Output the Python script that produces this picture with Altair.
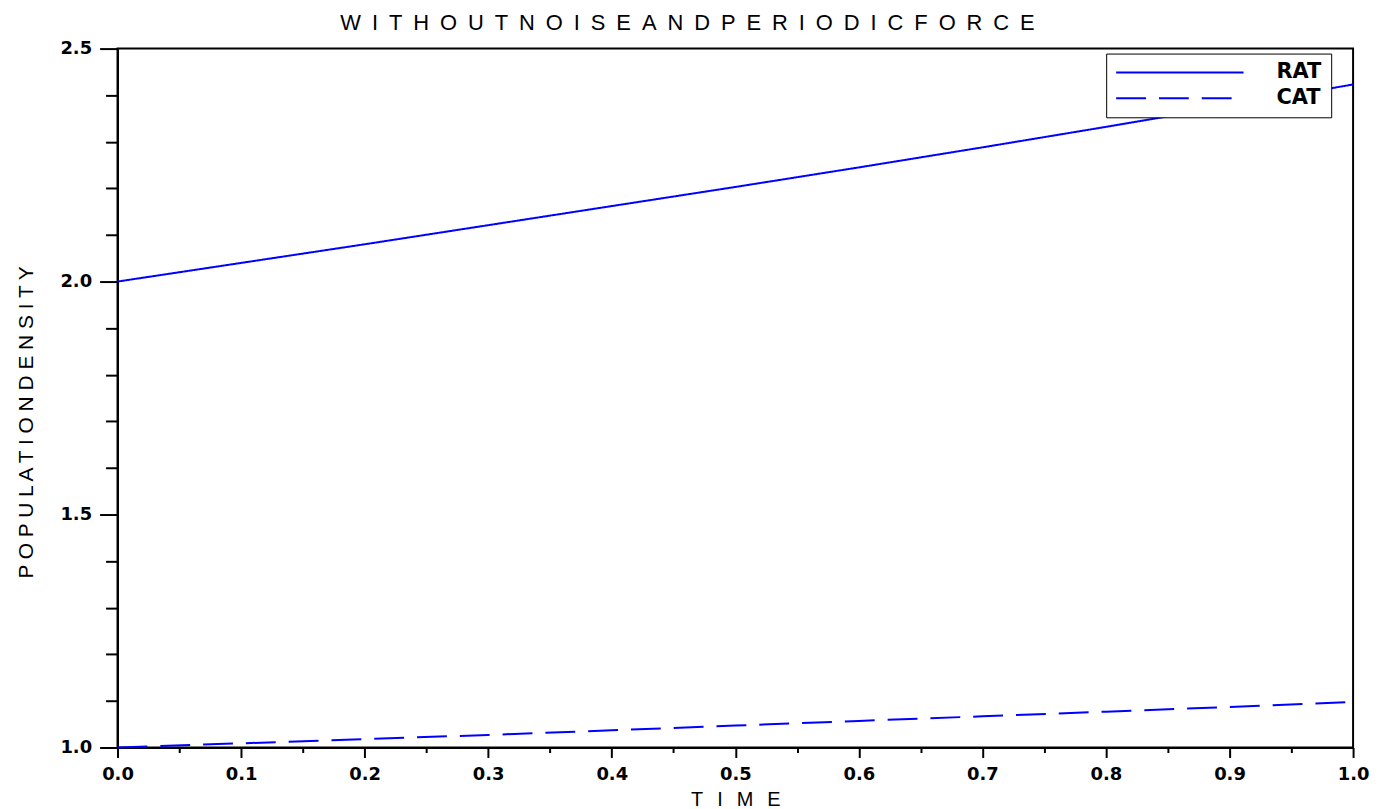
import altair as alt
import pandas as pd

# ---- data ----
time = [0.0, 0.1, 0.2, 0.3, 0.4, 0.5, 0.6, 0.7, 0.8, 0.9, 1.0]
rat = [2.000, 2.040, 2.080, 2.121, 2.162, 2.203, 2.245, 2.288, 2.332, 2.377, 2.423]
cat = [1.000, 1.009, 1.018, 1.027, 1.037, 1.047, 1.057, 1.067, 1.077, 1.087, 1.098]
series_names = ["RAT", "CAT"]

y_tick_values = [1.0, 1.1, 1.2, 1.3, 1.4, 1.5, 1.6, 1.7, 1.8, 1.9, 2.0,
                 2.1, 2.2, 2.3, 2.4, 2.5]
x_tick_values = [0.0, 0.05, 0.1, 0.15, 0.2, 0.25, 0.3, 0.35, 0.4, 0.45, 0.5,
                 0.55, 0.6, 0.65, 0.7, 0.75, 0.8, 0.85, 0.9, 0.95, 1.0]

title_text = "\u2002".join("WITHOUTNOISEANDPERIODICFORCE")
y_title = " ".join("POPULATIONDENSITY")
x_title = "\u2002\u2009".join("TIME")

df = pd.DataFrame({
    "time": time + time,
    "value": rat + cat,
    "series": [series_names[0]] * len(time) + [series_names[1]] * len(time),
})

legend = alt.Legend(
    title=None, orient="none", legendX=993, legendY=5,
    strokeColor="black", fillColor="white", padding=9,
    symbolType="stroke", symbolSize=16384, symbolStrokeWidth=2,
    clipHeight=20, rowPadding=5, labelOffset=32,
    labelFont="DejaVu Sans", labelFontWeight="bold", labelFontSize=21,
    labelColor="black",
)

major_x = "round(datum.value*20) % 2 == 0"
major_y = "round(datum.value*10) % 5 == 0"

chart = alt.Chart(df).mark_line(strokeWidth=2).encode(
    x=alt.X("time:Q", scale=alt.Scale(domain=[0, 1], nice=False, zero=False),
            axis=alt.Axis(
                values=x_tick_values, title=x_title, grid=False,
                labelExpr=f"{major_x} ? format(datum.value, '.1f') : ''",
                tickSize={"condition": {"test": major_x, "value": 10}, "value": 5},
                labelFlush=False, labelPadding=8,
                titleY=58, titleBaseline="alphabetic", titleFontSize=20,
            )),
    y=alt.Y("value:Q", scale=alt.Scale(domain=[1.0, 2.5], nice=False, zero=False),
            axis=alt.Axis(
                values=y_tick_values, title=y_title, grid=False,
                labelExpr=f"{major_y} ? format(datum.value, '.1f') : ''",
                tickSize={"condition": {"test": major_y, "value": 18}, "value": 12},
                labelPadding=8,
                titleX=-85, titleY=375, titleBaseline="alphabetic",
                titleAlign="center", titleAngle=-90, titleFontSize=21,
            )),
    color=alt.Color("series:N", sort=series_names,
                    scale=alt.Scale(domain=series_names, range=["#0000ff", "#0000ff"]),
                    legend=legend),
    strokeDash=alt.StrokeDash("series:N", sort=series_names,
                              scale=alt.Scale(domain=series_names, range=[[1, 0], [30, 13]]),
                              legend=legend),
).properties(
    width=1241, height=702,
    background="white",
    title=alt.TitleParams(text=title_text, font="Liberation Sans", fontSize=22,
                          fontWeight="normal", color="black", anchor="middle",
                          frame="group", dx=-48, offset=5),
    autosize=alt.AutoSizeParams(type="none"),
    padding={"left": 110, "top": 39, "right": 18, "bottom": 62},
).configure_view(
    stroke="black", strokeWidth=2,
).configure_axis(
    domainColor="black", domainWidth=2, tickColor="black", tickWidth=2,
    grid=False, labelFont="DejaVu Sans", labelFontWeight="bold", labelFontSize=18,
    labelColor="black", titleFont="Liberation Sans", titleFontWeight="normal",
    titleColor="black",
)

chart.save("out.html", embed_options={"renderer": "svg", "actions": False})
